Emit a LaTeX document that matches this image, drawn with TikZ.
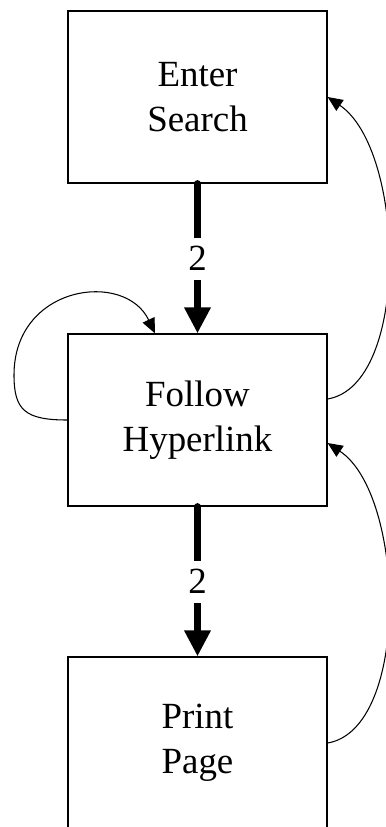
\documentclass[tikz,border=0pt]{standalone}
\usepackage{fontspec}
\setmainfont{Liberation Serif}
\usepackage{tikz}
\usetikzlibrary{arrows.meta,calc}
\tikzstyle{block} = [rectangle, draw, line width=0.7pt, align=center,
    minimum width=5.18cm, minimum height=3.44cm, inner sep=0pt,
    font=\fontsize{21}{25.6}\selectfont]
\tikzstyle{line} = [draw, line width=0.6pt, -{Triangle[width=0.26cm,length=0.3cm]}]
\tikzstyle{heavy} = [draw, line width=4pt, line cap=round, -{Triangle[width=0.5cm,length=0.52cm]}]
\tikzstyle{count} = [fill=white, inner sep=5pt, font=\fontsize{21}{25.6}\selectfont]

\begin{document}
\begin{tikzpicture}
    \useasboundingbox (0,0) rectangle (7.7,-16.54);
    % Place nodes
    \node [block] (search) at (3.95,-1.94) {Enter\\Search};
    \node [block, below of=search, node distance=6.46cm] (hyperlink) {Follow\\Hyperlink};
    \node [block, below of=hyperlink, node distance=6.46cm] (print) {Print\\Page};

    % Draw edges
    \path [heavy] (search) -- node[count] {2} (hyperlink);
    \path [heavy] (hyperlink) -- node[count] {2} (print);

    \path [line] (hyperlink.west) .. controls (0.5,-8.4) and (0.28,-8.2) .. (0.28,-7.5)
        .. controls (0.28,-5.7) and (2.5,-5.4) .. ([xshift=-0.85cm]hyperlink.north);
    \path [line] ([yshift=0.42cm]hyperlink.east) .. controls +(1.66,0.28) and +(1.56,-1.06) .. (search.east);
    \path [line] (print.east) .. controls +(1.66,0.28) and +(1.56,-1.04) .. ([yshift=-0.46cm]hyperlink.east);
\end{tikzpicture}
\end{document}
